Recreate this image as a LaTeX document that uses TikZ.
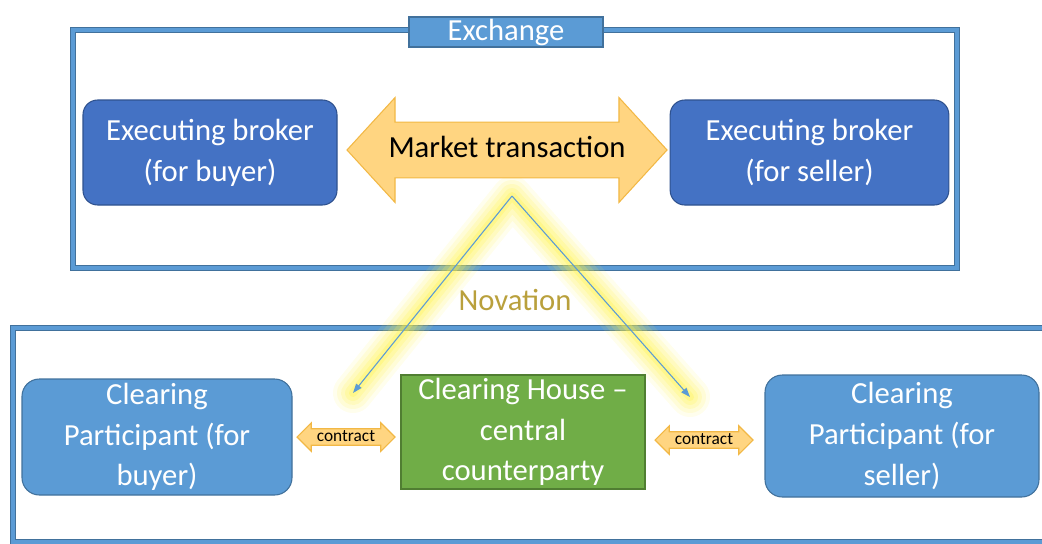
\documentclass[tikz,border=0pt]{standalone}
\usepackage{fontspec}
\setmainfont{Carlito}
\usetikzlibrary{shapes.arrows,arrows.meta}
\definecolor{frameedge}{HTML}{41719C}
\definecolor{framemid}{HTML}{5B9BD5}
\definecolor{brokerblue}{HTML}{4472C4}
\definecolor{brokeredge}{HTML}{2F528F}
\definecolor{partblue}{HTML}{5B9BD5}
\definecolor{houseedge}{HTML}{507E32}
\definecolor{housegreen}{HTML}{70AD47}
\definecolor{arrowfill}{HTML}{FFD581}
\definecolor{arrowedge}{HTML}{F2B845}
\definecolor{glowyellow}{HTML}{FFF24A}
\definecolor{novationtext}{HTML}{B9A03C}
\begin{document}
\begin{tikzpicture}[x=0.75pt,y=-0.75pt,
    frame/.style={draw=frameedge, double=framemid, double distance=3.5pt, line width=0.5pt},
    boxtext/.style={text=white, align=center, font=\fontsize{23}{30.5}\selectfont, inner sep=0pt, line width=0.8pt},
    broker/.style={boxtext, draw=brokeredge, fill=brokerblue, rounded corners=11pt, minimum height=78.75pt},
    participant/.style={boxtext, draw=frameedge, fill=partblue, rounded corners=13pt},
    trade/.style={double arrow, draw=arrowedge, fill=arrowfill, line width=0.8pt, inner xsep=0pt},
    novation/.style={draw=partblue, line width=0.8pt, -{Triangle[length=7pt,width=5pt]}}]
  \useasboundingbox (0,0) rectangle (1042,543);
  \clip (0,0) rectangle (1042,543);

  \draw[frame] (73,30) rectangle (957,268);
  \draw[frame] (13,328) rectangle (1050,542);
  \node[boxtext, draw=frameedge, fill=partblue, minimum width=145.5pt, minimum height=22.5pt] (exchange) at (506,32) {Exchange};

  \coordinate (apex) at (512,196);
  \coordinate (buyend) at (353,393);
  \coordinate (sellend) at (690,397);
  \foreach \w/\o in {40/0.10, 32/0.13, 24/0.17, 16/0.22, 8/0.3}
    \draw[glowyellow, opacity=\o, line width=\w*0.75pt, line cap=round, line join=round] (buyend) -- (apex) -- (sellend);
  \draw[novation] (apex) -- (buyend);
  \draw[novation] (apex) -- (sellend);
  \node[font=\fontsize{23}{28}\selectfont, text=novationtext] (novation) at (515,300) {Novation};

  \node[broker, minimum width=190.5pt] (buyerbroker) at (210,152.5) {Executing broker\\(for buyer)};
  \node[broker, minimum width=209pt] (sellerbroker) at (809.5,152.5) {Executing broker\\(for seller)};
  \node[trade, font=\fontsize{23}{28}\selectfont, text height=16pt, text depth=5pt, inner ysep=10pt,
        minimum height=240pt, double arrow tip angle=95, double arrow head extend=18.4pt] (market) at (507,150) {Market transaction};

  \node[participant, minimum width=202.5pt, minimum height=87pt] (buyerpart) at (157,437) {Clearing\\Participant (for\\buyer)};
  \node[participant, minimum width=205.5pt, minimum height=91.5pt] (sellerpart) at (902,436) {Clearing\\Participant (for\\seller)};
  \node[boxtext, draw=houseedge, fill=housegreen, minimum width=183pt, minimum height=85.5pt] (house) at (523,432) {Clearing House --\\central\\counterparty};

  \node[trade, font=\fontsize{13}{15}\selectfont, text height=8.5pt, text depth=2.5pt, inner ysep=0.3pt,
        minimum height=73.5pt, double arrow tip angle=90, double arrow head extend=4.5pt] (buycontract) at (346,437) {contract};
  \node[trade, font=\fontsize{13}{15}\selectfont, text height=8.5pt, text depth=2.5pt, inner ysep=0.3pt,
        minimum height=73.5pt, double arrow tip angle=90, double arrow head extend=4.5pt] (sellcontract) at (704,440) {contract};
\end{tikzpicture}
\end{document}
